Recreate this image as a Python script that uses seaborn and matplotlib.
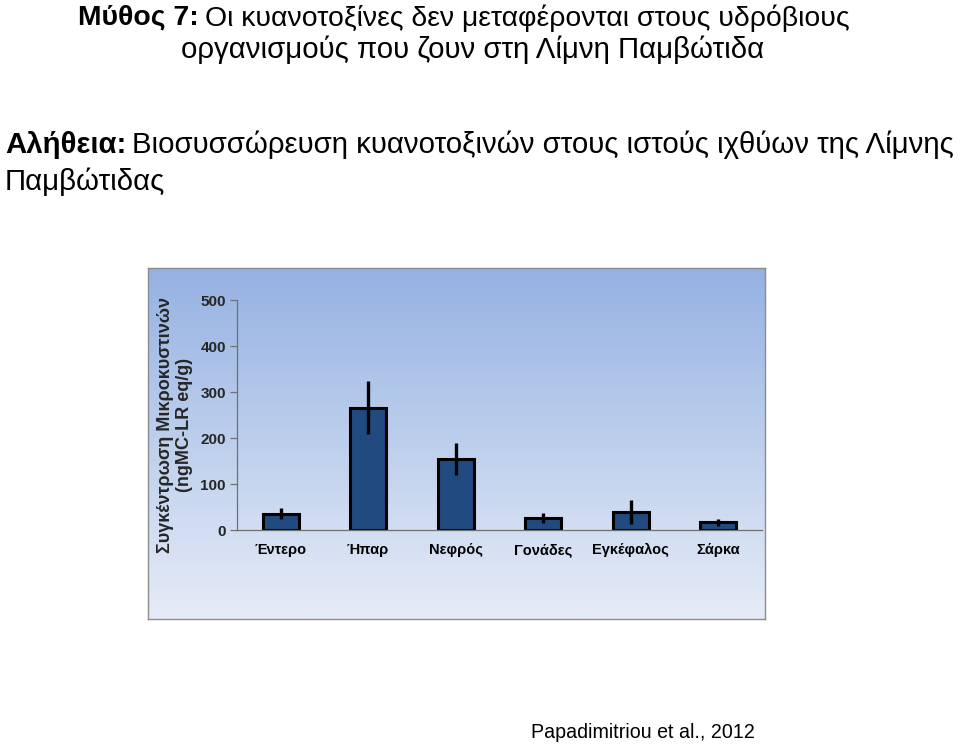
import numpy as np
import pandas as pd
import matplotlib
matplotlib.use("Agg")
import matplotlib.pyplot as plt
import matplotlib.transforms as mtransforms
import seaborn as sns

categories = ["Έντερο", "Ήπαρ", "Νεφρός", "Γονάδες", "Εγκέφαλος", "Σάρκα"]
values = [35, 266, 155, 26, 39, 17]
errors = [12, 58, 35, 10, 26, 8]
yticks = [0, 100, 200, 300, 400, 500]

sns.set_theme(style="white")
plt.rcParams["font.family"] = ["Liberation Sans", "DejaVu Sans"]

W, H = 960, 746
fig = plt.figure(figsize=(W / 100, H / 100), dpi=100)
fig.patch.set_facecolor("white")

def fx(px):
    return px / W

def fy(py):
    return 1 - py / H

# Panel with gradient background
px0, px1, py0, py1 = 148, 765, 268, 619
panel = fig.add_axes([fx(px0), fy(py1), fx(px1 - px0), (py1 - py0) / H])
top = np.array([0x95, 0xb2, 0xe2]) / 255
bot = np.array([0xe6, 0xec, 0xf7]) / 255
t = np.linspace(0, 1, 256)[:, None]
grad = top[None, :] * (1 - t) + bot[None, :] * t
panel.imshow(grad[:, None, :], aspect="auto", extent=[0, 1, 0, 1])
panel.set_xticks([])
panel.set_yticks([])
for s in panel.spines.values():
    s.set_color("#8c8c8c")
    s.set_linewidth(1.0)

# Main axes
ax0, ax1, ay0, ay1 = 237, 762, 300, 530
ax = fig.add_axes([fx(ax0), fy(ay1), fx(ax1 - ax0), (ay1 - ay0) / H])
ax.patch.set_alpha(0)

df = pd.DataFrame({"cat": categories, "val": values, "err": errors})
sns.barplot(data=df, x="cat", y="val", ax=ax, color="#214a80", saturation=1,
            width=0.41, edgecolor="black", linewidth=2.2, errorbar=None)
ax.errorbar(x=np.arange(len(categories)), y=df["val"], yerr=df["err"],
            fmt="none", ecolor="black", elinewidth=2.4, capsize=0)

ax.set_xlim(-0.5, len(categories) - 0.5)
ax.set_ylim(0, 500)
ax.set_yticks(yticks)
ax.set_yticklabels([str(v) for v in yticks], fontsize=11, fontweight="bold")
ax.set_xticks(np.arange(len(categories)))
ax.set_xticklabels([])
ax.set_xlabel("")
ax.set_ylabel("")
ax.tick_params(axis="x", length=0)
ax.set_xticks(np.arange(len(categories)) + 0.5, minor=True)
ax.tick_params(axis="x", which="minor", direction="inout", length=9, width=0.9, color="#707070")
ax.tick_params(axis="y", direction="out", length=5, width=0.9, color="#707070", pad=3, left=True)
for side in ["top", "right"]:
    ax.spines[side].set_visible(False)
for side in ["left", "bottom"]:
    ax.spines[side].set_color("#707070")
    ax.spines[side].set_linewidth(0.9)

# category labels on a common baseline
trans = mtransforms.blended_transform_factory(ax.transData, ax.transAxes)
for i, c in enumerate(categories):
    ax.text(i, -24 / (ay1 - ay0), c, transform=trans, ha="center", va="baseline",
            fontsize=10.5, fontweight="bold", color="black", family="Liberation Sans")

fig.text(fx(175), fy(425), "Συγκέντρωση Μικροκυστινών\n(ngMC-LR eq/g)",
         rotation=90, ha="center", va="center", fontsize=13, fontweight="bold",
         multialignment="center", linespacing=1.2)

# Titles with mixed weights
renderer = fig.canvas.get_renderer()

def mixed(x_px, y_px, bold_txt, rest, size):
    t1 = fig.text(fx(x_px), fy(y_px), bold_txt, fontsize=size, fontweight="bold",
                  ha="left", va="center", color="black")
    bb = t1.get_window_extent(renderer=renderer)
    fig.text(bb.x1 / W + fx(6), fy(y_px), rest, fontsize=size, ha="left",
             va="center", color="black")

mixed(78, 18, "Μύθος 7:", "Οι κυανοτοξίνες δεν μεταφέρονται στους υδρόβιους", 20.4)
fig.text(fx(181), fy(50), "οργανισμούς που ζουν στη Λίμνη Παμβώτιδα", fontsize=21.2,
         ha="left", va="center", color="black")
mixed(5, 145, "Αλήθεια:", "Βιοσυσσώρευση κυανοτοξινών στους ιστούς ιχθύων της Λίμνης", 21.2)
fig.text(fx(5), fy(182), "Παμβώτιδας", fontsize=21.2, ha="left", va="center", color="black")

fig.text(fx(755), fy(733), "Papadimitriou et al., 2012", fontsize=14.1,
         ha="right", va="center", color="black")

fig.savefig("out.png", dpi=100, facecolor="white")
